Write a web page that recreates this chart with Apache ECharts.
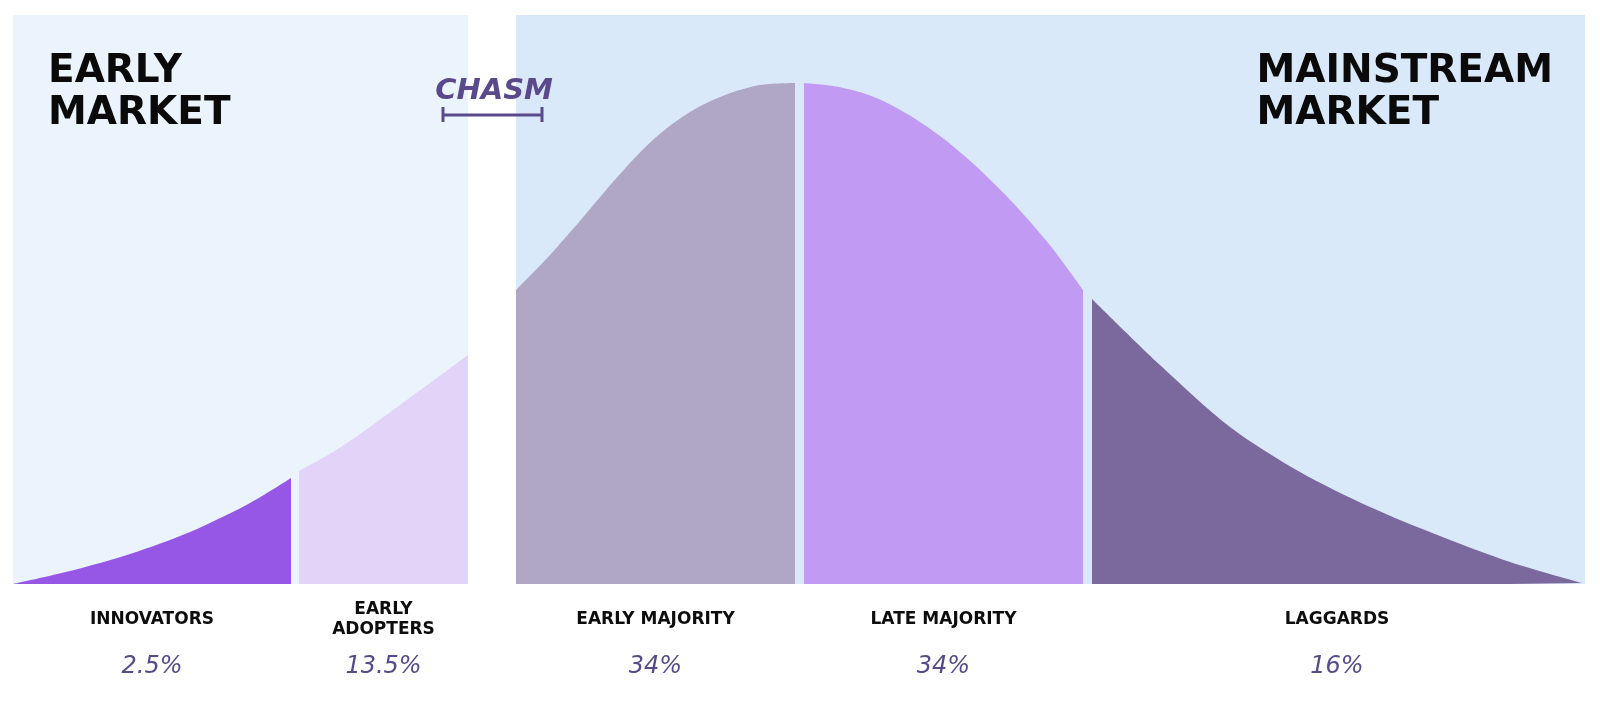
<!DOCTYPE html>
<html>
<head>
<meta charset="utf-8">
<title>Crossing the Chasm</title>
<script src="https://cdn.jsdelivr.net/npm/echarts@6/dist/echarts.min.js"></script>
<style>
  html, body { margin: 0; padding: 0; background: #fff; }
  #chart { width: 1600px; height: 703px; }
</style>
</head>
<body>
<div id="chart"></div>
<script>
// segment names + shares shown under the curve
const segmentNames = ['INNOVATORS', 'EARLY\nADOPTERS', 'EARLY MAJORITY', 'LATE MAJORITY', 'LAGGARDS'];
const segmentShares = ['2.5%', '13.5%', '34%', '34%', '16%'];

// curve outline per segment, [position, height]
const innovators = [[13, 0], [70, 13], [130, 30], [190, 52], [250, 81], [291, 106]];
const earlyAdopters = [[299, 113], [333, 132], [367, 155], [400, 179], [434, 204], [468, 229]];
const earlyMajority = [[516, 294], [550, 329], [585, 369], [620, 410], [655, 446], [690, 472],
  [725, 489], [760, 499], [795, 501]];
const lateMajority = [[804, 501], [839, 497], [874, 487], [909, 469], [944, 445], [979, 415],
  [1014, 380], [1049, 340], [1083, 294]];
const laggards = [[1092, 285], [1160, 219], [1230, 157], [1300, 112], [1370, 77], [1440, 48],
  [1510, 22], [1582, 1]];

// market panels, [from, to]
const marketPanels = [[13, 468], [516, 1585]];

const segments = [innovators, earlyAdopters, earlyMajority, lateMajority, laggards];
const segmentColors = ['#9657e6', '#e2d3f8', '#b0a7c5', '#c19af3', '#7b699d'];
const panelColors = ['#ebf4fd', '#dae9f9'];
const panelTop = 569;
const nameLevel = -36;
const shareLevel = -83;
const purpleText = '#574a8a';

const chart = echarts.init(document.getElementById('chart'));

const centers = segments.map(s => (s[0][0] + s[s.length - 1][0]) / 2);

const curveSeries = segments.map((pts, i) => ({
  type: 'line',
  data: pts,
  smooth: 0.3,
  showSymbol: false,
  silent: true,
  z: 3,
  lineStyle: { width: 0 },
  areaStyle: { color: segmentColors[i], opacity: 1, origin: 0 }
}));

function labelSeries(texts, level, labelStyle) {
  return {
    type: 'scatter',
    silent: true,
    symbolSize: 1,
    z: 5,
    itemStyle: { color: 'rgba(0,0,0,0)', opacity: 1 },
    data: texts.map((t, i) => ({
      value: [centers[i], level],
      label: { formatter: t }
    })),
    label: Object.assign({ show: true, position: 'inside', align: 'center' }, labelStyle)
  };
}

const option = {
  animation: false,
  grid: { left: 0, right: 0, top: 0, bottom: 0 },
  xAxis: { type: 'value', min: 0, max: 1600, show: false },
  yAxis: { type: 'value', min: -119, max: 584, show: false },
  series: [
    {
      type: 'custom',
      silent: true,
      z: 1,
      data: marketPanels,
      renderItem: (params, api) => {
        const p0 = api.coord([api.value(0), panelTop]);
        const p1 = api.coord([api.value(1), 0]);
        return {
          type: 'rect',
          shape: { x: p0[0], y: p0[1], width: p1[0] - p0[0], height: p1[1] - p0[1] },
          style: { fill: panelColors[params.dataIndex] }
        };
      }
    },
    ...curveSeries,
    labelSeries(segmentNames, nameLevel, {
      color: '#0d0d0d',
      fontFamily: 'DejaVu Sans',
      fontWeight: 'bold',
      fontSize: 17,
      lineHeight: 20
    }),
    labelSeries(segmentShares, shareLevel, {
      color: purpleText,
      fontFamily: 'DejaVu Sans',
      fontStyle: 'italic',
      fontSize: 24
    })
  ],
  graphic: [
    {
      type: 'text', left: 48, top: 51, z: 10,
      style: {
        text: 'EARLY\nMARKET', fill: '#0a0a0a',
        font: 'bold 39px "DejaVu Sans"', lineHeight: 42
      }
    },
    {
      type: 'text', right: 47, top: 51, z: 10,
      style: {
        text: 'MAINSTREAM\nMARKET', fill: '#0a0a0a', align: 'right',
        font: 'bold 39px "DejaVu Sans"', lineHeight: 42
      }
    },
    {
      type: 'text', x: 494, y: 91, z: 10,
      style: {
        text: 'CHASM', fill: '#5b4a8b', align: 'center', verticalAlign: 'middle',
        font: 'italic bold 29px "DejaVu Sans"'
      }
    },
    // chasm bracket
    { type: 'line', z: 10, shape: { x1: 443, y1: 115, x2: 542, y2: 115 }, style: { stroke: '#5b4a8b', lineWidth: 3 } },
    { type: 'line', z: 10, shape: { x1: 443, y1: 107, x2: 443, y2: 122 }, style: { stroke: '#5b4a8b', lineWidth: 3 } },
    { type: 'line', z: 10, shape: { x1: 542, y1: 107, x2: 542, y2: 122 }, style: { stroke: '#5b4a8b', lineWidth: 3 } }
  ]
};

chart.setOption(option);
</script>
</body>
</html>
